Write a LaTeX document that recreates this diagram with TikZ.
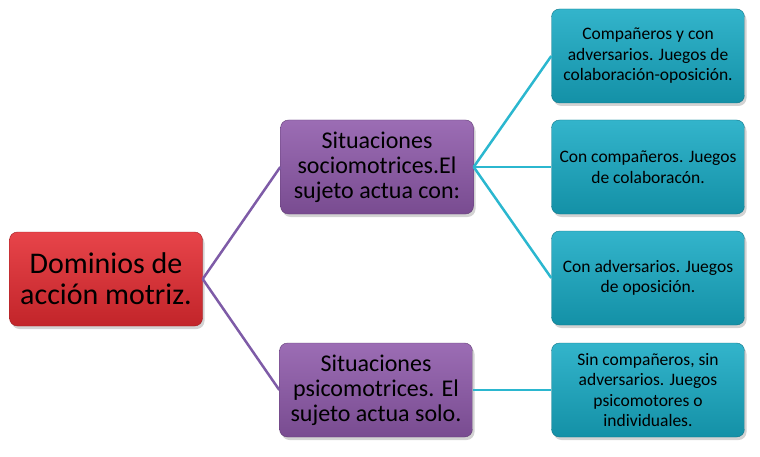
\documentclass[tikz,border=0pt]{standalone}
\usepackage{fontspec}
\setmainfont{Carlito}
\usepackage{tikz}
\usetikzlibrary{positioning,shadows}
\definecolor{redbox}{HTML}{E42B31}
\definecolor{purplebox}{HTML}{8E59AA}
\definecolor{cyanbox}{HTML}{17AAC4}
\definecolor{purpleln}{HTML}{7E5BA7}
\definecolor{cyanln}{HTML}{2BB7CF}
\tikzset{
  box/.style={rectangle,rounded corners=8pt,minimum width=193pt,
    minimum height=94pt,align=center,inner sep=2pt,text=black,
    drop shadow={shadow xshift=2pt,shadow yshift=-3pt,opacity=0.35}},
  rootbox/.style={box,draw=redbox!70!black,top color=redbox!88!white,
    middle color=redbox,bottom color=redbox!85!black,
    font=\fontsize{30}{31}\selectfont},
  midbox/.style={box,draw=purplebox!70!black,top color=purplebox!88!white,
    middle color=purplebox,bottom color=purplebox!85!black,
    font=\fontsize{24}{25}\selectfont},
  leafbox/.style={box,draw=cyanbox!70!black,top color=cyanbox!88!white,
    middle color=cyanbox,bottom color=cyanbox!85!black,
    font=\fontsize{17.5}{20.5}\selectfont},
  purpleline/.style={draw=purpleln,line width=2.5pt},
  cyanline/.style={draw=cyanln,line width=2.5pt}
}

\begin{document}
\begin{tikzpicture}[x=1pt,y=1pt]
  \useasboundingbox (0,0) rectangle (760,456);
  \node[rootbox] (dom) at (106,177) {Dominios de\\acción motriz.};
  \node[midbox] (socio) at (377,289) {Situaciones\\sociomotrices.El\\sujeto actua con:};
  \node[midbox] (psico) at (376,66) {Situaciones\\psicomotrices. El\\sujeto actua solo.};
  \node[leafbox] (colop) at (648,400) {Compañeros y con\\adversarios. Juegos de\\colaboración-oposición.};
  \node[leafbox] (colab) at (648,289) {Con compañeros. Juegos\\de colaboracón.};
  \node[leafbox] (opos) at (648,178) {Con adversarios. Juegos\\de oposición.};
  \node[leafbox] (indiv) at (648,66) {Sin compañeros, sin\\adversarios. Juegos\\psicomotores o\\individuales.};
  \draw[purpleline] (dom.east) -- (socio.west);
  \draw[purpleline] (dom.east) -- (psico.west);
  \draw[cyanline] (socio.east) -- (colop.west);
  \draw[cyanline] (socio.east) -- (colab.west);
  \draw[cyanline] (socio.east) -- (opos.west);
  \draw[cyanline] (psico.east) -- (indiv.west);
\end{tikzpicture}
\end{document}
